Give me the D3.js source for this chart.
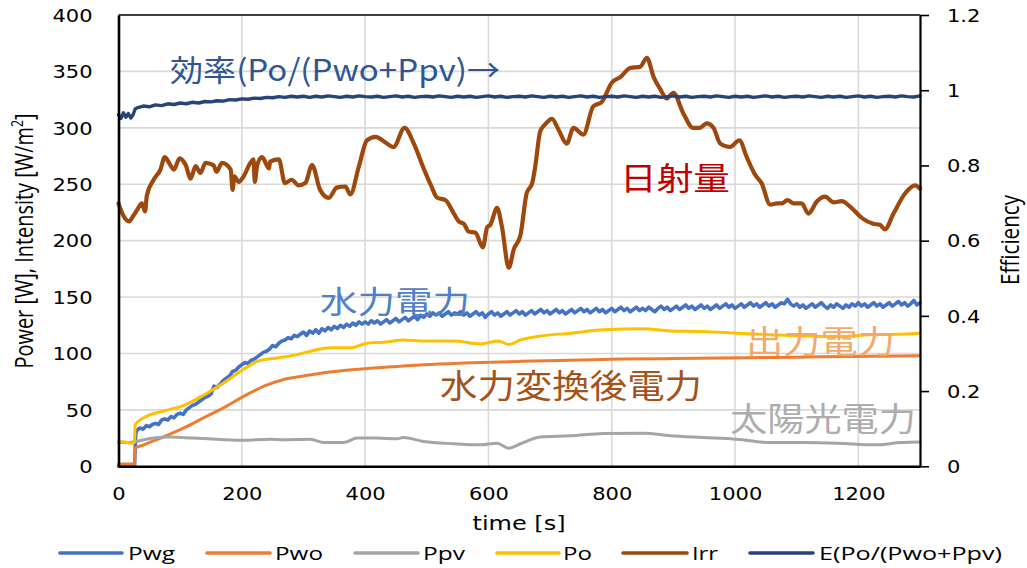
<!DOCTYPE html>
<html><head><meta charset="utf-8">
<script src="https://cdn.jsdelivr.net/npm/d3@7"></script>
<style>body{margin:0;background:#fff}</style>
</head><body>
<svg id="c" width="1027" height="568"></svg>
<script>
// ---------- DATA ----------
const xTickVals = [0, 200, 400, 600, 800, 1000, 1200];
const yTickVals = [0, 50, 100, 150, 200, 250, 300, 350, 400];
const rTickVals = [0, 0.2, 0.4, 0.6, 0.8, 1.0, 1.2];
const rTickLabels = ["0", "0.2", "0.4", "0.6", "0.8", "1", "1.2"];

const tPwg = [0,10,20,26,28,30,35,40,45,50,55,60,65,70,75,80,85,90,95,100,105,110,115,120,125,130,135,140,145,150,155,160,165,170,175,180,185,190,195,200,205,210,215,220,225,230,235,240,245,250,255,260,265,270,275,280,285,290,295,300,305,310,315,320,325,330,335,340,345,350,355,360,365,370,375,380,385,390,395,400,405,410,415,420,425,430,435,440,445,450,455,460,465,470,475,480,485,490,495,500,505,510,515,520,525,530,535,540,545,550,555,560,565,570,575,580,585,590,595,600,605,610,615,620,625,630,635,640,645,650,655,660,665,670,675,680,685,690,695,700,705,710,715,720,725,730,735,740,745,750,755,760,765,770,775,780,785,790,795,800,805,810,815,820,825,830,835,840,845,850,855,860,865,870,875,880,885,890,895,900,905,910,915,920,925,930,935,940,945,950,955,960,965,970,975,980,985,990,995,1000,1005,1010,1015,1020,1025,1030,1035,1040,1045,1050,1055,1060,1065,1070,1075,1080,1085,1090,1095,1100,1105,1110,1115,1120,1125,1130,1135,1140,1145,1150,1155,1160,1165,1170,1175,1180,1185,1190,1195,1200,1205,1210,1215,1220,1225,1230,1235,1240,1245,1250,1255,1260,1265,1270,1275,1280,1285,1290,1295,1300];
const vPwg = [0,0.5,0,0,29,32,34,33,36,35,37,38,37,41,42,41,44,43,46,47,46,50,52,54,55,57,59,61,62,64,71,70,73,76,78,80,84,85,88,90,92,91,94,95,97,99,101,102,104,107,106,109,111,112,114,113,116,115,117,119,116,120,118,121,118,122,120,123,121,124,122,125,123,126,124,127,125,128,126,128,126,129,127,129,126,128,130,127,129,131,128,130,132,129,131,133,130,134,132,135,133,136,134,136,133,135,137,134,136,135,137,134,136,133,135,137,134,136,132,135,137,134,136,133,135,137,134,136,138,135,137,134,136,138,135,137,139,136,138,135,137,139,136,138,135,137,139,136,138,140,137,139,136,138,140,137,139,136,138,140,137,139,141,138,140,137,139,141,138,140,138,141,139,137,140,142,139,141,138,140,142,139,141,143,140,142,139,141,143,140,142,139,141,143,140,142,144,141,143,140,142,144,141,143,145,142,144,141,143,145,142,144,141,143,145,144,148,144,142,144,141,143,140,142,144,141,143,145,142,140,143,141,144,142,140,143,141,144,142,145,142,144,141,143,145,142,144,141,143,145,142,144,146,143,145,142,144,147,143,145];

const tPwo = [0,26,27,41,73,106,138,171,203,236,268,300,333,365,409,452,495,560,652,730,814,900,976,1060,1138,1220,1300];
const vPwo = [2,2,16,19,26,34,43,52,62,71,77,80,83,85,87,88.5,90,91.5,93,94,95,95.5,96,96.5,97,97.5,98];

const tPpv = [0,15,27,57,84,122,160,203,246,268,311,333,365,387,419,452,462,495,544,587,614,633,652,684,733,787,852,895,949,1003,1057,1111,1165,1230,1268,1300];
const vPpv = [21,21,22,25,26,25,24,23,24,23.5,24,21,21,25,25,24.4,25.5,22,20,19,20.5,16,20,26,27,29,29.4,27,25.5,24,21,21,20.5,19,21,21.5];

const tPo = [0,10,20,26,27,41,73,106,138,171,203,225,257,290,311,344,376,403,430,462,495,544,587,616,633,652,679,733,787,852,895,949,1003,1057,1111,1165,1219,1260,1300];
const vPo = [22,21.5,20.5,21,37,43,49,54,63,74,86,93,96,99,102,105,105,109,110,112,111,111,108.5,111,108,112,115,118,121,122,120,119.5,118,116.5,115.5,115,116.5,117,118];

const tIrr = [0,8,17,24,30,38,43,46,57,68,75,83,90,99,109,117,125,133,141,154,159,168,182,185,188,195,203,214,219,221,225,233,244,246,260,270,281,292,303,314,327,341,354,368,376,390,403,417,433,446,464,479,495,506,517,530,544,552,560,568,579,591,598,603,614,622,633,641,652,662,671,676,684,692,703,714,727,738,754,770,784,800,814,830,846,857,868,879,889,900,916,932,943,954,965,976,992,1007,1019,1033,1043,1057,1068,1076,1085,1095,1108,1119,1133,1146,1160,1173,1187,1206,1224,1235,1243,1257,1276,1292,1300];
const vIrr = [233,222,217,222,227,233,226,240,254,263,274,268,263,273,267,255,266,260,269,267,261,269,263,245,257,252,257,269,272,252,267,274,264,270,272,251,254,249,251,267,245,238,247,248,241,266,289,292,287,283,300,286,264,250,238,236,224,217,215,208,207,194,212,214,229,212,176,192,205,242,251,266,297,303,308,298,286,300,294,319,323,340,345,353,354,362,345,334,326,331,313,300,300,304,300,286,283,289,274,258,251,232,233,233,236,233,233,224,235,239,234,235,230,220,215,214,210,224,242,249,246];

const tE = [0,4,8,12,16,20,24,27,30,40,50,60,70,80,90,100,110,120,130,140,150,160,170,180,190,200,210,220,230,240,250,260,270,280,290,300,310,320,330,340,350,360,370,380,390,400,410,420,430,440,450,460,470,480,490,500,510,520,530,540,550,560,570,580,590,600,610,620,630,640,650,660,670,680,690,700,710,720,730,740,750,760,770,780,790,800,810,820,830,840,850,860,870,880,890,900,910,920,930,940,950,960,970,980,990,1000,1010,1020,1030,1040,1050,1060,1070,1080,1090,1100,1110,1120,1130,1140,1150,1160,1170,1180,1190,1200,1210,1220,1230,1240,1250,1260,1270,1280,1290,1300];
const vE = [0.935,0.925,0.94,0.928,0.938,0.926,0.936,0.95,0.953,0.958,0.956,0.961,0.959,0.964,0.962,0.966,0.964,0.968,0.966,0.970,0.969,0.972,0.971,0.975,0.974,0.977,0.976,0.979,0.978,0.981,0.980,0.983,0.981,0.984,0.982,0.984,0.981,0.984,0.982,0.985,0.983,0.981,0.984,0.982,0.985,0.983,0.982,0.984,0.981,0.983,0.985,0.982,0.984,0.981,0.983,0.984,0.982,0.985,0.983,0.981,0.984,0.982,0.984,0.981,0.983,0.985,0.982,0.984,0.981,0.983,0.984,0.982,0.985,0.983,0.981,0.984,0.982,0.984,0.981,0.983,0.985,0.982,0.984,0.981,0.983,0.984,0.982,0.985,0.983,0.981,0.984,0.982,0.984,0.981,0.983,0.985,0.982,0.984,0.981,0.983,0.984,0.982,0.985,0.983,0.981,0.984,0.982,0.984,0.981,0.983,0.985,0.982,0.984,0.981,0.983,0.984,0.982,0.985,0.983,0.981,0.984,0.982,0.984,0.981,0.983,0.985,0.982,0.984,0.981,0.983,0.984,0.982,0.985,0.983,0.982,0.985];

const seriesNames = ["Pwg", "Pwo", "Ppv", "Po", "Irr", "E(Po/(Pwo+Ppv)"];
const seriesColors = ["#4472C4", "#ED7D31", "#A5A5A5", "#FFC000", "#9E480E", "#264478"];

// ---------- LAYOUT ----------
const L = 118.5, R = 920, T = 15, B = 466.3;
const SX = 1.2; // horizontal text stretch of the reference
const svg = d3.select("#c");
const x = d3.scaleLinear([0, 1300], [L, R]);
const yL = d3.scaleLinear([0, 400], [B, T]);
const yR = d3.scaleLinear([0, 1.2], [B, T]);

// grid
const grid = svg.append("g").attr("stroke", "#D9D9D9").attr("stroke-width", 1.6);
grid.selectAll("line.h").data(yTickVals.filter(v => v > 0 && v < 400)).join("line")
  .attr("x1", L).attr("x2", R).attr("y1", d => yL(d)).attr("y2", d => yL(d));
grid.selectAll("line.v").data(xTickVals.filter(v => v > 0)).join("line")
  .attr("x1", d => x(d)).attr("x2", d => x(d)).attr("y1", T).attr("y2", B);

// series lines
const tick = "DejaVu Sans, Verdana, sans-serif";
function drawLine(ts, vs, scale, color, w, curve) {
  const line = d3.line().x(d => x(d[0])).y(d => scale(d[1])).curve(curve || d3.curveLinear);
  svg.append("path").datum(d3.zip(ts, vs)).attr("d", line)
    .attr("fill", "none").attr("stroke", color).attr("stroke-width", w)
    .attr("stroke-linejoin", "round").attr("stroke-linecap", "round");
}
drawLine(tPwg, vPwg, yL, seriesColors[0], 3.6);
drawLine(tPwo, vPwo, yL, seriesColors[1], 3, d3.curveMonotoneX);
drawLine(tPpv, vPpv, yL, seriesColors[2], 3, d3.curveMonotoneX);
drawLine(tPo, vPo, yL, seriesColors[3], 3, d3.curveMonotoneX);
drawLine(tIrr, vIrr, yL, seriesColors[4], 4.2, d3.curveMonotoneX);
drawLine(tE, vE, yR, seriesColors[5], 3.4);

// axes
svg.append("line").attr("x1", L).attr("x2", R).attr("y1", T).attr("y2", T).attr("stroke", "#000").attr("stroke-width", 1.6);
const gl = svg.append("g").attr("transform", `translate(${L},0)`)
  .call(d3.axisLeft(yL).tickValues(yTickVals).tickSize(0).tickSizeOuter(0).tickFormat(d3.format("d")));
gl.select(".domain").attr("stroke", "#000").attr("stroke-width", 2.6);
gl.selectAll("text").attr("x", -26 / SX).attr("dy", "0.36em")
  .attr("transform", `scale(${SX},1)`).attr("font-family", tick).attr("font-size", 17.5).attr("fill", "#000");

const gb = svg.append("g").attr("transform", `translate(0,${B})`)
  .call(d3.axisBottom(x).tickValues(xTickVals).tickSize(0).tickSizeOuter(0).tickFormat(d3.format("d")));
gb.select(".domain").attr("stroke", "#000").attr("stroke-width", 2.6);
gb.selectAll(".tick text").attr("y", 33.5).attr("dy", 0)
  .attr("font-family", tick).attr("font-size", 17.5).attr("fill", "#000")
  .attr("transform", `scale(${SX},1)`);

const gr = svg.append("g").attr("transform", `translate(${R},0)`)
  .call(d3.axisRight(yR).tickValues(rTickVals).tickSizeInner(9).tickSizeOuter(0)
    .tickFormat((d, i) => rTickLabels[i]));
gr.select(".domain").attr("stroke", "#000").attr("stroke-width", 2.2);
gr.selectAll(".tick line").attr("stroke", "#000").attr("stroke-width", 1.6);
gr.selectAll("text").attr("x", 27 / SX).attr("dy", "0.36em")
  .attr("transform", `scale(${SX},1)`).attr("font-family", tick).attr("font-size", 17.5).attr("fill", "#000");

// axis titles
svg.append("text").attr("transform", `translate(519,530) scale(${SX},1)`)
  .attr("text-anchor", "middle").attr("font-family", tick).attr("font-size", 20).attr("fill", "#000")
  .text("time [s]");

const yt = svg.append("text").attr("transform", `translate(33,241) scale(${SX},1) rotate(-90)`)
  .attr("text-anchor", "middle").attr("font-family", "Liberation Sans Narrow, Open Sans, sans-serif")
  .attr("font-size", 21).attr("fill", "#000")
  .attr("textLength", 255).attr("lengthAdjust", "spacingAndGlyphs");
yt.append("tspan").text("Power [W], Intensity [W/m");
yt.append("tspan").attr("font-size", 13).attr("dy", -8).text("2");
yt.append("tspan").attr("dy", 8).text("]");

svg.append("text").attr("transform", `translate(1019,240) scale(${SX},1) rotate(-90)`)
  .attr("text-anchor", "middle").attr("font-family", "Liberation Sans Narrow, Open Sans, sans-serif")
  .attr("font-size", 21).attr("fill", "#000")
  .attr("textLength", 90).attr("lengthAdjust", "spacingAndGlyphs").text("Efficiency");

// annotations
const cjk = "Noto Sans CJK JP, sans-serif";
const notes = [
  { s: "効率(Po/(Pwo+Ppv)→", x: 170, y: 81, w: 330, fs: 30, c: "#2F5597" },
  { s: "日射量", x: 620, y: 190, w: 110, fs: 32, c: "#C00000" },
  { s: "水力電力", x: 320, y: 313, w: 150, fs: 31, c: "#4F81C4" },
  { s: "出力電力", x: 746, y: 353, w: 149, fs: 32, c: "#F4A86A" },
  { s: "水力変換後電力", x: 440, y: 398, w: 262, fs: 33, c: "#A3531A" },
  { s: "太陽光電力", x: 730, y: 431, w: 186, fs: 33, c: "#ADADAD" }
];
svg.selectAll("text.note").data(notes).join("text").attr("class", "note")
  .attr("x", d => d.x).attr("y", d => d.y).attr("font-family", cjk).attr("font-size", d => d.fs)
  .attr("fill", d => d.c).attr("textLength", d => d.w).attr("lengthAdjust", "spacingAndGlyphs")
  .text(d => d.s);

// legend
const legX1 = [60, 207, 355, 497, 623, 750];
const legX2 = [122, 270, 418, 559, 687, 813];
const legTx = [128, 275, 423, 563, 692, 819];
const legTw = [47, 48, 42, 29, 26, 183];
const legY = 553;
const lg = svg.append("g");
seriesNames.forEach((n, i) => {
  lg.append("line").attr("x1", legX1[i]).attr("x2", legX2[i]).attr("y1", legY).attr("y2", legY)
    .attr("stroke", seriesColors[i]).attr("stroke-width", 3.6).attr("stroke-linecap", "round");
  lg.append("text").attr("x", legTx[i]).attr("y", legY + 6.5).attr("font-family", "Open Sans, sans-serif")
    .attr("font-size", 18).attr("fill", "#000").attr("textLength", legTw[i]).attr("lengthAdjust", "spacingAndGlyphs")
    .text(n);
});
</script>
</body></html>
